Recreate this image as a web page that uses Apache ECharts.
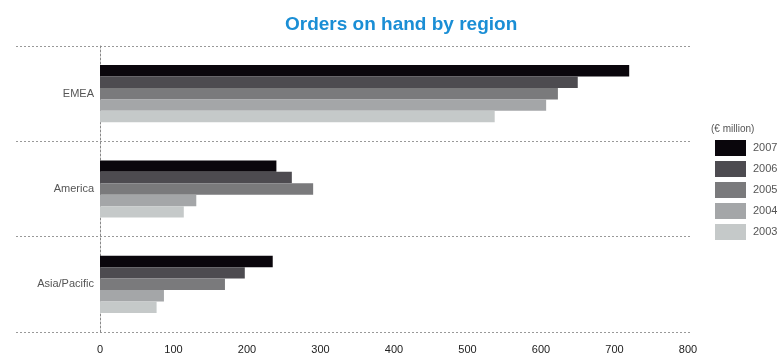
<!DOCTYPE html>
<html>
<head>
<meta charset="utf-8">
<script src="https://cdn.jsdelivr.net/npm/echarts@6/dist/echarts.min.js"></script>
<style>
  html, body { margin: 0; padding: 0; background: #fff; }
  #chart { width: 784px; height: 355px; }
</style>
</head>
<body>
<div id="chart"></div>
<script>
// Orders on hand per region, € million
const regions = ['EMEA', 'America', 'Asia/Pacific'];
const years = ['2007', '2006', '2005', '2004', '2003'];
const values2007 = [720, 240, 235];
const values2006 = [650, 261, 197];
const values2005 = [623, 290, 170];
const values2004 = [607, 131, 87];
const values2003 = [537, 114, 77];
const yearColors = ['#0a060c', '#4d4b50', '#7a7a7c', '#a4a6a8', '#c5c9c9'];
const xTicks = [0, 100, 200, 300, 400, 500, 600, 700, 800];

const seriesValues = [values2007, values2006, values2005, values2004, values2003];

const chart = echarts.init(document.getElementById('chart'));

const barSeries = years.map((y, i) => ({
  name: y,
  type: 'bar',
  xAxisIndex: 0,
  yAxisIndex: 0,
  data: seriesValues[i],
  barGap: '0%',
  barCategoryGap: '40%',
  itemStyle: { color: yearColors[i] },
  emphasis: { disabled: true },
  silent: true
}));

chart.setOption({
  animation: false,
  title: {
    text: 'Orders on hand by region',
    left: 280,
    top: 10,
    textStyle: {
      fontFamily: "'Liberation Sans', Arial, sans-serif",
      fontWeight: 'bold',
      fontSize: 19,
      color: '#1a8ed5'
    }
  },
  legend: {
    orient: 'vertical',
    left: 710,
    top: 135,
    itemWidth: 31,
    itemHeight: 16,
    itemGap: 5,
    data: years,
    icon: 'rect',
    selectedMode: false,
    textStyle: {
      fontFamily: "'Liberation Sans', Arial, sans-serif",
      fontSize: 11,
      color: '#555',
      padding: [0, 0, 0, 2]
    }
  },
  graphic: [{
    type: 'text',
    left: 711,
    top: 124,
    style: {
      text: '(€ million)',
      fontFamily: "'Liberation Sans', Arial, sans-serif",
      fontSize: 10,
      fill: '#555'
    }
  }],
  grid: [
    { left: 100, right: 96, top: 46, bottom: 23, containLabel: false },
    // wider band that carries the dotted region separators
    { left: 16, right: 92, top: 46, bottom: 23, containLabel: false }
  ],
  xAxis: [
    {
      type: 'value',
      gridIndex: 0,
      min: 0,
      max: 800,
      interval: 100,
      axisLine: { show: false },
      axisTick: { show: false },
      splitLine: { show: false },
      axisLabel: {
        margin: 12,
        fontFamily: "'Liberation Sans', Arial, sans-serif",
        fontSize: 11,
        color: '#222',
        customValues: xTicks
      }
    },
    {
      type: 'value',
      gridIndex: 1,
      min: 0,
      max: 1,
      show: false
    }
  ],
  yAxis: [
    {
      type: 'category',
      gridIndex: 0,
      data: regions,
      inverse: true,
      axisLine: { show: true, lineStyle: { color: '#888', type: [2, 2], width: 1 } },
      axisTick: { show: false },
      splitLine: { show: false },
      axisLabel: {
        margin: 6,
        fontFamily: "'Liberation Sans', Arial, sans-serif",
        fontSize: 11,
        color: '#555'
      }
    },
    {
      type: 'category',
      gridIndex: 1,
      data: regions,
      inverse: true,
      axisLine: { show: false },
      axisTick: { show: false },
      axisLabel: { show: false },
      splitLine: {
        show: true,
        lineStyle: { color: '#999', type: [2, 2], width: 1 }
      }
    }
  ],
  series: barSeries
});
</script>
</body>
</html>
